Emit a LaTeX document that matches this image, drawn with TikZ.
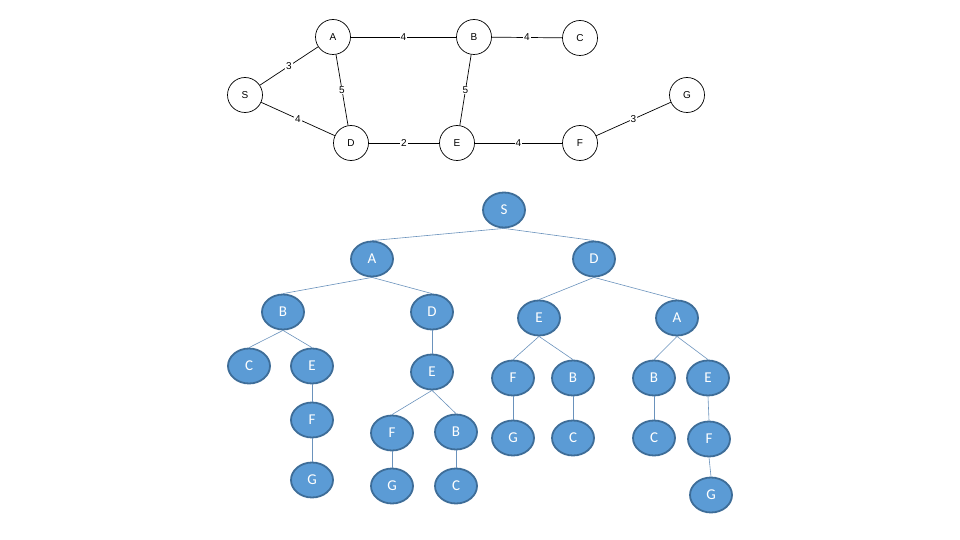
\documentclass[tikz,border=0pt]{standalone}
\usepackage{fontspec}
\usetikzlibrary{shapes.geometric}
\setmainfont{Liberation Sans}
\newfontfamily\treefont{Carlito}
\definecolor{nodeblue}{HTML}{5B9BD5}
\definecolor{rimblue}{HTML}{3E6D98}
\definecolor{linkblue}{HTML}{6A92BC}
\begin{document}
\begin{tikzpicture}[
    x=1pt, y=-1pt,
    city/.style={circle, draw=black, line width=0.7pt, minimum size=35pt, inner sep=0pt, font=\fontsize{10}{10}\selectfont},
    road/.style={black, line width=0.7pt},
    cost/.style={fill=white, inner sep=1pt, font=\fontsize{10}{10}\selectfont},
    leaf/.style={ellipse, fill=nodeblue, draw=rimblue, line width=1.8pt, minimum width=42pt, minimum height=35pt, inner sep=0pt, text=white, font=\treefont\fontsize{15}{15}\selectfont},
    link/.style={linkblue, line width=0.6pt},
]
    \useasboundingbox (0,0) rectangle (960,540);

    % Road map
    \node[city] (s) at (245,95) {S};
    \node[city] (a) at (333,37) {A};
    \node[city] (b) at (474,37) {B};
    \node[city] (c) at (580,38) {C};
    \node[city] (d) at (351,143) {D};
    \node[city] (e) at (457,143) {E};
    \node[city] (f) at (580,143) {F};
    \node[city] (g) at (687,95) {G};

    \draw[road] (s) -- node[cost] {3} (a);
    \draw[road] (s) -- node[cost] {4} (d);
    \draw[road] (a) -- node[cost] {5} (d);
    \draw[road] (a) -- node[cost] {4} (b);
    \draw[road] (b) -- node[cost] {4} (c);
    \draw[road] (b) -- node[cost] {5} (e);
    \draw[road] (d) -- node[cost] {2} (e);
    \draw[road] (e) -- node[cost] {4} (f);
    \draw[road] (f) -- node[cost] {3} (g);

    % Search tree
    \node[leaf] (r) at (504,210) {S};
    \node[leaf] (ra) at (372,259) {A};
    \node[leaf] (rd) at (594,259) {D};

    % left subtree (via A)
    \node[leaf] (rab) at (283,312) {B};
    \node[leaf] (rad) at (432,312) {D};
    \node[leaf] (rabc) at (249,366) {C};
    \node[leaf] (rabe) at (312,366) {E};
    \node[leaf] (rabef) at (312,420) {F};
    \node[leaf] (rabefg) at (312,480) {G};
    \node[leaf] (rade) at (432,372) {E};
    \node[leaf] (radef) at (392,433) {F};
    \node[leaf] (radeb) at (456,432) {B};
    \node[leaf] (radefg) at (392,486) {G};
    \node[leaf] (radebc) at (456,486) {C};

    % right subtree (via D)
    \node[leaf] (rde) at (539,318) {E};
    \node[leaf] (rda) at (677,318) {A};
    \node[leaf] (rdef) at (513,378) {F};
    \node[leaf] (rdeb) at (573,378) {B};
    \node[leaf] (rdefg) at (513,438) {G};
    \node[leaf] (rdebc) at (573,438) {C};
    \node[leaf] (rdab) at (654,378) {B};
    \node[leaf] (rdae) at (708,378) {E};
    \node[leaf] (rdabc) at (654,438) {C};
    \node[leaf] (rdaef) at (709,439) {F};
    \node[leaf] (rdaefg) at (711,495) {G};

    \foreach \p/\q in {r/ra, r/rd, ra/rab, ra/rad, rab/rabc, rab/rabe, rabe/rabef,
        rabef/rabefg, rad/rade, rade/radef, rade/radeb, radef/radefg, radeb/radebc,
        rd/rde, rd/rda, rde/rdef, rde/rdeb, rdef/rdefg, rdeb/rdebc,
        rda/rdab, rda/rdae, rdab/rdabc, rdae/rdaef, rdaef/rdaefg}
      \draw[link] (\p.south) -- (\q.north);
\end{tikzpicture}
\end{document}
